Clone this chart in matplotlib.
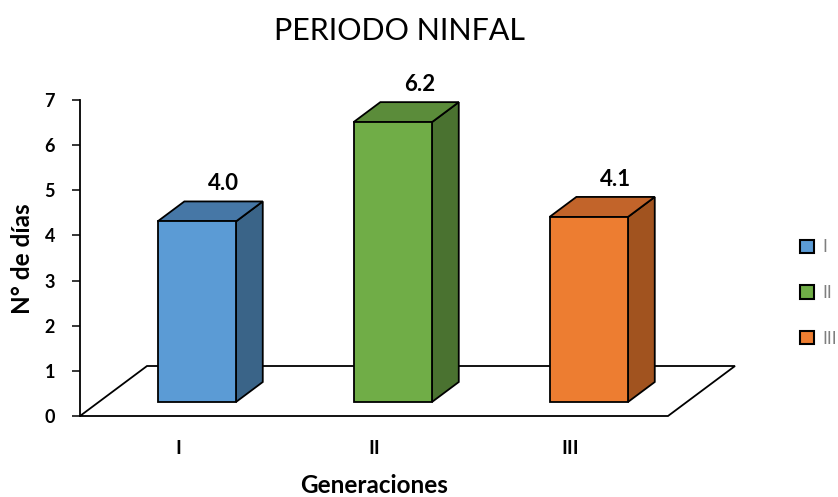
import matplotlib.pyplot as plt
from matplotlib.patches import Polygon, Patch

plt.rcParams["font.family"] = ["Lato", "DejaVu Sans"]

# data
generations = ["I", "II", "III"]
days = [4.0, 6.2, 4.1]
front_colors = ["#5B9BD5", "#70AD47", "#ED7D31"]
top_colors = ["#4677A6", "#5B8C3A", "#C2642A"]
side_colors = ["#3A6488", "#4A7230", "#A1531F"]

# layout of the pseudo-3D scene (pixels)
W, H = 838, 497
X0_PX, Y0_PX = 80, 416          # front-left corner of the floor
CAT_PX = 196                    # width of one category
UNIT_PX = 45.14                 # height of one day
FLOOR_DX = 67 / CAT_PX          # floor depth, in data units
FLOOR_DY = 50 / UNIT_PX
BAR_W = 0.40
BAR_D0, BAR_D1 = 0.28, 0.68     # bar depth as a fraction of the floor
EDGE = dict(edgecolor="black", linewidth=1.3, joinstyle="miter")

fig = plt.figure(figsize=(W / 100, H / 100), dpi=100)
ax = fig.add_axes([0, 0, 1, 1])
ax.set_xlim(-X0_PX / CAT_PX, (W - X0_PX) / CAT_PX)
ax.set_ylim(-(H - Y0_PX) / UNIT_PX, Y0_PX / UNIT_PX)

n = len(generations)

# floor
ax.add_patch(Polygon([(0, 0), (n, 0), (n + FLOOR_DX, FLOOR_DY), (FLOOR_DX, FLOOR_DY)],
                     facecolor="white", zorder=1, **EDGE))

ox0, oy0 = BAR_D0 * FLOOR_DX, BAR_D0 * FLOOR_DY
ddx, ddy = (BAR_D1 - BAR_D0) * FLOOR_DX, (BAR_D1 - BAR_D0) * FLOOR_DY

for i, v in enumerate(days):
    left = i + 0.5 - BAR_W / 2 + ox0
    right = left + BAR_W
    base, top = oy0, oy0 + v
    ax.add_patch(Polygon([(right, base), (right + ddx, base + ddy),
                          (right + ddx, top + ddy), (right, top)],
                         facecolor=side_colors[i], zorder=2, **EDGE))
    ax.add_patch(Polygon([(left, top), (right, top),
                          (right + ddx, top + ddy), (left + ddx, top + ddy)],
                         facecolor=top_colors[i], zorder=2, **EDGE))
    ax.add_patch(Polygon([(left, base), (right, base), (right, top), (left, top)],
                         facecolor=front_colors[i], zorder=3, **EDGE))
    ax.annotate(f"{v:.1f}", xy=((left + right) / 2 + ddx, top + ddy),
                xytext=(0, 5), textcoords="offset points",
                ha="center", va="bottom", fontsize=16, fontweight="bold")

# axes
for s in ("top", "right"):
    ax.spines[s].set_visible(False)
ax.spines["left"].set_position(("data", 0))
ax.spines["left"].set_bounds(0, 7)
ax.spines["left"].set_linewidth(1.3)
ax.spines["bottom"].set_position(("data", 0))
ax.spines["bottom"].set_visible(False)
ax.set_yticks(range(8))
ax.set_xticks([i + 0.5 for i in range(n)])
ax.set_xticklabels(generations)
ax.tick_params(axis="y", direction="out", length=6, width=1.1, pad=12, labelsize=13)
ax.tick_params(axis="x", length=0, pad=17, labelsize=14)
for lbl in ax.get_xticklabels() + ax.get_yticklabels():
    lbl.set_fontweight("bold")

fig.text(399 / W, 1 - 31 / H, "PERIODO NINFAL", ha="center", va="center", fontsize=22)
fig.text(22 / W, 1 - 259 / H, "N° de días", rotation=90, ha="center", va="center",
         fontsize=17.5, fontweight="bold")
fig.text(374 / W, 1 - 493 / H, "Generaciones", ha="center", va="baseline",
         fontsize=17.5, fontweight="bold")

handles = [Patch(facecolor=c, edgecolor="black", linewidth=1.5) for c in front_colors]
leg = fig.legend(handles, generations, loc="center left", bbox_to_anchor=(784 / W, 1 - 293 / H),
                 frameon=False, fontsize=12.5, handlelength=0.8, handleheight=0.8,
                 handletextpad=0.5, labelspacing=1.7, labelcolor="#7F7F7F")

fig.savefig("out.png", dpi=100)
